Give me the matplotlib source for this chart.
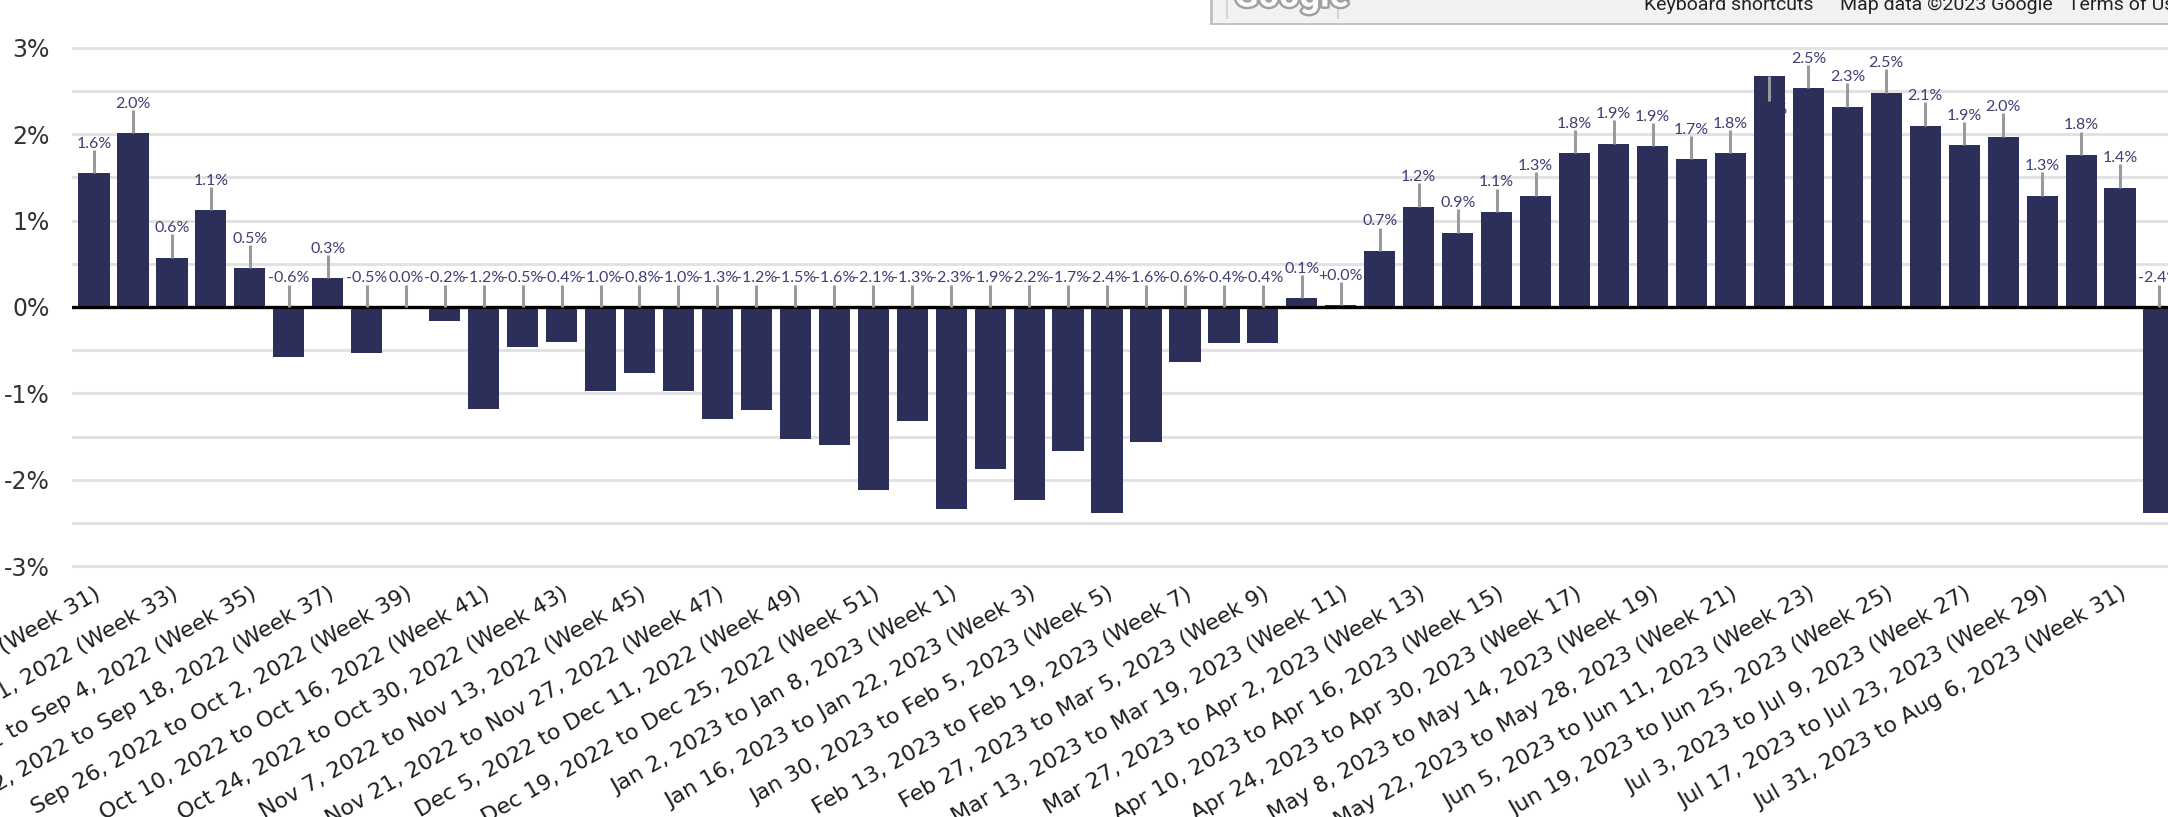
import numpy as np
import matplotlib
matplotlib.use('Agg')
import matplotlib.pyplot as plt
import matplotlib.patheffects as pe
from matplotlib.patches import Rectangle
from matplotlib.lines import Line2D

# Weekly change, Week 31 2022 through Week 32 2023 (percent)
weeks = list(range(31, 53)) + list(range(1, 33))
changes = [1.55, 2.01, 0.57, 1.12, 0.45, -0.58, 0.33, -0.53, 0.0, -0.16,
           -1.18, -0.46, -0.41, -0.97, -0.76, -0.97, -1.30, -1.19, -1.53, -1.60,
           -2.12, -1.32, -2.34, -1.88, -2.23, -1.67, -2.39, -1.56, -0.64, -0.42,
           -0.42, 0.10, 0.02, 0.65, 1.16, 0.86, 1.10, 1.29, 1.78, 1.89,
           1.86, 1.71, 1.78, 2.67, 2.53, 2.32, 2.48, 2.10, 1.87, 1.97,
           1.29, 1.76, 1.38, -2.39]

# x-axis labels, shown on every other week
week_labels = [
    "Aug 1, 2022 to Aug 7, 2022 (Week 31)",
    "Aug 15, 2022 to Aug 21, 2022 (Week 33)",
    "Aug 29, 2022 to Sep 4, 2022 (Week 35)",
    "Sep 12, 2022 to Sep 18, 2022 (Week 37)",
    "Sep 26, 2022 to Oct 2, 2022 (Week 39)",
    "Oct 10, 2022 to Oct 16, 2022 (Week 41)",
    "Oct 24, 2022 to Oct 30, 2022 (Week 43)",
    "Nov 7, 2022 to Nov 13, 2022 (Week 45)",
    "Nov 21, 2022 to Nov 27, 2022 (Week 47)",
    "Dec 5, 2022 to Dec 11, 2022 (Week 49)",
    "Dec 19, 2022 to Dec 25, 2022 (Week 51)",
    "Jan 2, 2023 to Jan 8, 2023 (Week 1)",
    "Jan 16, 2023 to Jan 22, 2023 (Week 3)",
    "Jan 30, 2023 to Feb 5, 2023 (Week 5)",
    "Feb 13, 2023 to Feb 19, 2023 (Week 7)",
    "Feb 27, 2023 to Mar 5, 2023 (Week 9)",
    "Mar 13, 2023 to Mar 19, 2023 (Week 11)",
    "Mar 27, 2023 to Apr 2, 2023 (Week 13)",
    "Apr 10, 2023 to Apr 16, 2023 (Week 15)",
    "Apr 24, 2023 to Apr 30, 2023 (Week 17)",
    "May 8, 2023 to May 14, 2023 (Week 19)",
    "May 22, 2023 to May 28, 2023 (Week 21)",
    "Jun 5, 2023 to Jun 11, 2023 (Week 23)",
    "Jun 19, 2023 to Jun 25, 2023 (Week 25)",
    "Jul 3, 2023 to Jul 9, 2023 (Week 27)",
    "Jul 17, 2023 to Jul 23, 2023 (Week 29)",
    "Jul 31, 2023 to Aug 6, 2023 (Week 31)",
]

y_ticks = [-3, -2, -1, 0, 1, 2, 3]

BAR = '#2d2f5b'
LABEL = '#3d3f70'
LEADER = '#9a9a9a'
GRID = '#e2e2e2'

W, H = 2168, 817
fig = plt.figure(figsize=(W / 100, H / 100), dpi=100)
ax = fig.add_axes([72 / W, (H - 574.8) / H, (W - 72) / W, 535.6 / H])

x = np.arange(len(changes))
ax.bar(x, changes, width=0.8, color=BAR, zorder=3)

# light grid every half percent, black zero line on top
for g in np.arange(-3, 3.01, 0.5):
    if g != 0:
        ax.axhline(g, color=GRID, lw=2.2, zorder=1)
ax.axhline(0, color='black', lw=2.4, zorder=4)

ax.set_xlim(-0.565, 53.23)
ax.set_ylim(-3.1, 3.1)
for s in ax.spines.values():
    s.set_visible(False)

ax.set_yticks(y_ticks, [f"{t}%" for t in y_ticks])
ax.tick_params(axis='y', length=0, pad=16, labelsize=17, labelcolor='#333333')

ax.set_xticks(x[::2][:len(week_labels)], week_labels, rotation=30,
              ha='right', va='top', rotation_mode='anchor')
ax.tick_params(axis='x', length=0, pad=6, labelsize=16, labelcolor='#1e1e1e')


def fmt(v):
    s = f"{v:.1f}%"
    if v > 0 and s == "0.0%":
        s = "+" + s
    return s


# value labels with short leader lines
for i, v in enumerate(changes):
    base = max(v, 0)
    if base + 0.30 + 0.14 > 3.0:
        # no room above the bar: label tucked below the top
        ax.plot([i, i], [v, v - 0.28], color=LEADER, lw=2.2, zorder=4,
                solid_capstyle='butt')
        ax.text(i, v - 0.31, fmt(v), ha='center', va='top', fontsize=11.5,
                color=LABEL, family='Lato', zorder=2)
    else:
        top = base + (0.27 if v > 0 else 0.26)
        ax.plot([i, i], [base, top], color=LEADER, lw=2.2, zorder=4,
                solid_capstyle='butt')
        ax.text(i, base + 0.295, fmt(v), ha='center', va='baseline',
                fontsize=11.5, color=LABEL, family='Lato', zorder=5)

# map attribution strip at the top
fig.add_artist(Rectangle((1210 / W, 1 - 25 / H), (W - 1210) / W, 25 / H,
                         transform=fig.transFigure, fc='#c2c2c2', ec='none', zorder=10))
fig.add_artist(Rectangle((1213 / W, 1 - 22.5 / H), (W - 1213) / W, 22.5 / H,
                         transform=fig.transFigure, fc='#f2f2f2', ec='none', zorder=11))
for lx in (1227, 1338):
    fig.add_artist(Line2D([lx / W, lx / W], [1, 1 - 18 / H], transform=fig.transFigure,
                          color='#d6d6d6', lw=1.5, zorder=12))
fig.text(1234 / W, 1 - 6.5 / H, "Google", family='Roboto', weight='bold', fontsize=26,
         color='#fbfbfb', va='baseline', ha='left', zorder=13,
         path_effects=[pe.withStroke(linewidth=3.5, foreground='#a0a0a0')])
for tx, txt in ((1644, "Keyboard shortcuts"), (1840, "Map data ©2023 Google"),
                (2068, "Terms of Use")):
    fig.text(tx / W, 1 - 10 / H, txt, family='Roboto', fontsize=14, color='#222222',
             va='baseline', ha='left', zorder=13)

fig.savefig('out.png', dpi=100)
